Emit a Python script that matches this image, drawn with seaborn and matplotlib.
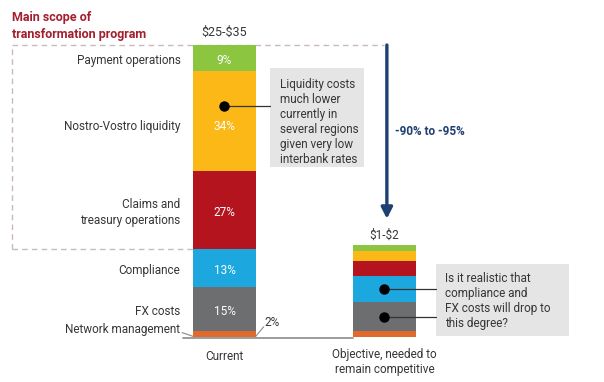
import numpy as np
import pandas as pd
import matplotlib
matplotlib.use("Agg")
import matplotlib.pyplot as plt
import seaborn as sns

# Data (bottom to top), objective bar read in the same units as the current bar
segments = ["Network management", "FX costs", "Compliance",
            "Claims and\ntreasury operations", "Nostro-Vostro liquidity",
            "Payment operations"]
current = [2, 15, 13, 27, 34, 9]
objective = [2.0, 9.9, 8.9, 5.3, 3.4, 2.0]
scenarios = ["Current", "Objective, needed to\nremain competitive"]
totals_text = [r"\$25-\$35", r"\$1-\$2"]
colors = ["#e06a2c", "#6d6e70", "#1ca8de", "#b3141d", "#fbb817", "#8cc53f"]

sns.set_theme(style="white")
plt.rcParams["font.family"] = ["Roboto", "DejaVu Sans"]
TXT = "#363636"

fig = plt.figure(figsize=(6.04, 3.82), dpi=100)
ax = fig.add_axes([0, 0, 1, 1])

# stacked bars: overlay cumulative sums, tallest first
cum_cur = np.cumsum(current)
cum_obj = np.cumsum(objective)
bar_w = 0.39
for i in range(len(segments) - 1, -1, -1):
    df = pd.DataFrame({"scenario": [0, 1], "value": [cum_cur[i], cum_obj[i]]})
    sns.barplot(data=df, x="scenario", y="value", color=colors[i], width=bar_w,
                errorbar=None, linewidth=0, saturation=1, ax=ax, zorder=3)

ax.set_xlim(-1.403, 2.372)
ax.set_ylim(-15.41, 115.41)
ax.axis("off")

half = bar_w / 2
fs = 8.5

# baseline
ax.plot([-0.26, 1 - half], [-0.3, -0.3], color="#8a8a8a", lw=1.2, zorder=2)

# dashed "main scope" box
dash = dict(color="#c9b9b9", lw=1, ls=(0, (4, 3)), zorder=1)
ax.plot([-1.328, -1.328], [cum_cur[2], 100], **dash)
ax.plot([-1.328, -half], [cum_cur[2], cum_cur[2]], **dash)
ax.plot([-1.328, 1], [100, 100], **dash)
ax.text(-1.328, 111.8, "Main scope of\ntransformation program", color="#a31f2e",
        fontsize=9, fontweight="bold", va="top", ha="left", linespacing=1.45)

# segment labels
mids = cum_cur - np.array(current) / 2
for i, name in enumerate(segments):
    if i == 0:
        ax.text(-0.275, 2.4, name, ha="right", va="center", fontsize=fs, color=TXT)
        continue
    off = -2 if i == 4 else -0.8
    ax.text(-0.275, mids[i] + off, name, ha="right", va="center", fontsize=fs,
            color=TXT, linespacing=1.3)
    ax.text(0, mids[i] + off, f"{current[i]}%", ha="center", va="center",
            fontsize=fs, color="white", zorder=5)
ax.plot([-0.265, -half], [1.5, 0.2], color="#8a8a8a", lw=0.8)
ax.plot([half, 0.245], [0.2, 3.5], color="#8a8a8a", lw=0.8)
ax.text(0.25, 4.8, f"{current[0]}%", ha="left", va="center", fontsize=fs, color=TXT)

# totals and x labels
ax.text(0, 104.2, totals_text[0], ha="center", va="center", fontsize=fs + 0.5, color=TXT)
ax.text(1, 34.8, totals_text[1], ha="center", va="center", fontsize=fs, color=TXT)
ax.text(0, -6.8, scenarios[0], ha="center", va="center", fontsize=fs, color=TXT)
ax.text(1, -8.6, scenarios[1], ha="center", va="center", fontsize=fs, color=TXT,
        linespacing=1.2)

# reduction arrow
ax.annotate("", xy=(1.015, 40.5), xytext=(1.015, 100),
            arrowprops=dict(arrowstyle="-|>,head_width=0.28,head_length=0.55",
                            color="#1e3f72", lw=2.4, shrinkA=0, shrinkB=0))
ax.text(1.066, 70.5, "-90% to -95%", ha="left", va="center", fontsize=fs,
        color="#1e3f72", fontweight="bold")

# callout 1
ax.add_patch(plt.Rectangle((0.284, 58.2), 0.588, 33.9, color="#e5e5e5", lw=0, zorder=2))
ax.text(0.347, 88.8, "Liquidity costs\nmuch lower\ncurrently in\nseveral regions\n"
        "given very low\ninterbank rates", ha="left", va="top", fontsize=fs,
        color=TXT, linespacing=1.2, zorder=4)
y_dot = mids[4] + 5
ax.plot([0, 0.284], [y_dot, y_dot], color="#333333", lw=0.9, zorder=4)
ax.plot(0, y_dot, "o", color="black", ms=6.5, zorder=6)

# callout 2
ax.add_patch(plt.Rectangle((1.322, 0.4), 0.831, 24.6, color="#e5e5e5", lw=0, zorder=2))
ax.text(1.378, 22.4, "Is it realistic that\ncompliance and\nFX costs will drop to\n"
        "this degree?", ha="left", va="top", fontsize=fs, color=TXT,
        linespacing=1.2, zorder=4)
obj_mids = cum_obj - np.array(objective) / 2
for j in (1, 2):
    ax.plot([1, 1.322], [obj_mids[j], obj_mids[j]], color="#333333", lw=0.9, zorder=4)
    ax.plot(1, obj_mids[j], "o", color="black", ms=6.5, zorder=6)

fig.savefig("out.png", dpi=100)
